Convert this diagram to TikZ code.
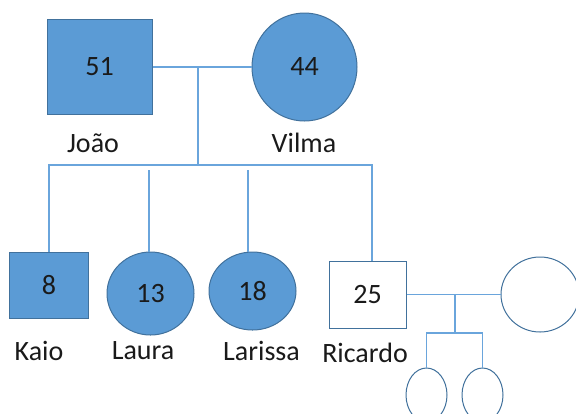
\documentclass[tikz,border=0pt]{standalone}
\usepackage{fontspec}
\setmainfont{Carlito}
\usetikzlibrary{shapes.geometric}
\definecolor{fillblue}{HTML}{5B9BD5}
\definecolor{edgeblue}{HTML}{41719C}
\definecolor{lineblue}{HTML}{6AA5DC}
\definecolor{txt}{HTML}{1A1A1A}
\begin{document}
\begin{tikzpicture}[x=1bp,y=-1bp,
  person/.style={draw=edgeblue, line width=1bp, fill=fillblue, inner sep=0pt,
    font=\fontsize{28bp}{30bp}\selectfont, text=txt},
  male/.style={person, rectangle},
  female/.style={person, ellipse},
  blank/.style={fill=white},
  lbl/.style={font=\fontsize{28bp}{30bp}\selectfont, text=txt, inner sep=0pt},
  link/.style={draw=lineblue, line width=1.8bp}]
\useasboundingbox (0,0) rectangle (576,413);

% generation 1
\node[male, minimum width=105bp, minimum height=95bp] (joao) at (99.5,67) {51};
\node[female, minimum width=105bp, minimum height=108bp] (vilma) at (304.5,67) {44};
\node[lbl] (ljoao) at (93,143) {João};
\node[lbl] (lvilma) at (304,143) {Vilma};

% generation 2
\node[male, minimum width=78bp, minimum height=66bp] (kaio) at (49,285) {8};
\node[female, minimum width=87bp, minimum height=83bp] (laura) at (150.5,293.5) {13};
\node[female, minimum width=87bp, minimum height=78bp] (larissa) at (252.5,291) {18};
\node[male, blank, minimum width=77bp, minimum height=67bp] (ricardo) at (367.5,294.5) {25};
\node[female, blank, minimum width=78bp, minimum height=75bp] (wife) at (540,294.5) {};
\node[lbl] (lkaio) at (39,351) {Kaio};
\node[lbl] (llaura) at (143,351) {Laura};
\node[lbl] (llarissa) at (261.5,351) {Larissa};
\node[lbl] (lricardo) at (365,353) {Ricardo};

% generation 3
\node[female, blank, minimum width=41bp, minimum height=54bp] (c1) at (426.5,395) {};
\node[female, blank, minimum width=41bp, minimum height=54bp] (c2) at (482.5,395) {};

% connectors
\coordinate (m1) at (198,67);
\coordinate (bar) at (198,165);
\coordinate (bl) at (49,165);
\coordinate (br) at (372,165);
\coordinate (t1) at (149,170);
\coordinate (t2) at (248,170);
\draw[link] (joao.east) -- (vilma.west);
\draw[link] (m1) -- (bar);
\draw[link] (kaio.north) -- (bl) -- (br) -- (br |- ricardo.north);
\draw[link] (t1) -- (t1 |- laura.north);
\draw[link] (t2) -- (t2 |- larissa.north);

\coordinate (m2) at (455,294.5);
\coordinate (cb) at (455,333);
\draw[link] (ricardo.east) -- (wife.west);
\draw[link] (m2) -- (cb);
\draw[link] (c1.north) -- (c1.north |- cb) -- (c2.north |- cb) -- (c2.north);
\end{tikzpicture}
\end{document}
